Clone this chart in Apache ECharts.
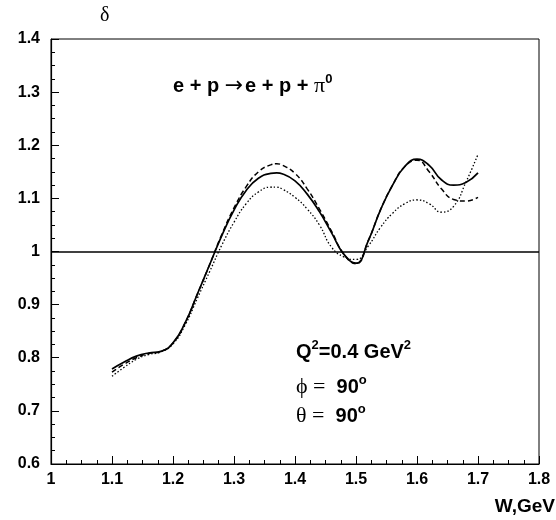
<!DOCTYPE html>
<html>
<head>
<meta charset="utf-8">
<script src="https://cdn.jsdelivr.net/npm/echarts@6/dist/echarts.min.js"></script>
<style>html,body{margin:0;padding:0;background:#fff}#c{width:556px;height:520px}</style>
</head>
<body>
<div id="c"></div>
<script>
const W = [1.10,1.12,1.14,1.16,1.18,1.20,1.22,1.24,1.26,1.28,1.30,1.32,1.34,1.36,1.37,1.38,1.40,1.42,1.44,1.46,1.48,1.50,1.52,1.54,1.56,1.58,1.60,1.62,1.64,1.66,1.68,1.70];
const solid = [0.779,0.792,0.803,0.809,0.812,0.828,0.866,0.920,0.975,1.030,1.078,1.115,1.138,1.147,1.148,1.146,1.133,1.108,1.075,1.035,0.995,0.978,1.020,1.078,1.125,1.160,1.174,1.162,1.135,1.125,1.130,1.148];
const dashed = [0.773,0.788,0.800,0.808,0.812,0.828,0.866,0.920,0.975,1.032,1.082,1.122,1.150,1.163,1.165,1.162,1.147,1.118,1.080,1.038,0.995,0.977,1.020,1.078,1.125,1.160,1.172,1.150,1.118,1.098,1.095,1.102];
const dotted = [0.765,0.782,0.797,0.806,0.811,0.826,0.862,0.912,0.962,1.012,1.055,1.090,1.112,1.121,1.121,1.117,1.102,1.080,1.050,1.008,0.990,0.985,1.010,1.045,1.072,1.090,1.097,1.090,1.074,1.085,1.130,1.183];
const xTicks = [1,1.1,1.2,1.3,1.4,1.5,1.6,1.7,1.8];
const yTicks = [0.6,0.7,0.8,0.9,1,1.1,1.2,1.3,1.4];

const pair = arr => W.map((w,i)=>[w,arr[i]]);
const chart = echarts.init(document.getElementById('c'));
const lab = {fontFamily:'Liberation Sans, Arial, sans-serif', fontWeight:'bold', fontSize:16, color:'#000'};
const B = 'bold 20px Liberation Sans, sans-serif';
const G = '22px Liberation Serif, serif';
const S = 'bold 13px Liberation Sans, sans-serif';
chart.setOption({
  animation:false,
  grid:{left:51,right:17,top:39,bottom:56,show:true,borderColor:'#000',borderWidth:1},
  xAxis:{type:'value',min:xTicks[0],max:xTicks[xTicks.length-1],interval:0.1,
    axisLine:{lineStyle:{color:'#000',width:1.2}},
    axisTick:{inside:true,length:8,lineStyle:{color:'#000'}},
    minorTick:{show:true,splitNumber:4,length:4,lineStyle:{color:'#000'}},
    splitLine:{show:false},
    axisLabel:Object.assign({margin:8,formatter:v=>String(+v.toFixed(1))},lab)},
  yAxis:{type:'value',min:yTicks[0],max:yTicks[yTicks.length-1],interval:0.1,
    axisLine:{lineStyle:{color:'#000',width:1.2}},
    axisTick:{inside:true,length:8,lineStyle:{color:'#000'}},
    minorTick:{show:true,splitNumber:4,length:4,lineStyle:{color:'#000'}},
    splitLine:{show:false},
    axisLabel:Object.assign({margin:11,formatter:v=>String(+v.toFixed(1))},lab)},
  series:[
    {type:'line',data:pair(solid),smooth:true,symbol:'none',lineStyle:{color:'#000',width:1.7,type:'solid'},
     markLine:{silent:true,symbol:'none',label:{show:false},lineStyle:{color:'#000',width:1.5,type:'solid'},data:[{yAxis:1}]}},
    {type:'line',data:pair(dashed),smooth:true,symbol:'none',lineStyle:{color:'#000',width:1.5,type:[5,3]}},
    {type:'line',data:pair(dotted),smooth:true,symbol:'none',lineStyle:{color:'#000',width:1.3,type:[1.5,2]}}
  ],
  graphic:[
    {type:'text',style:{x:100,y:16,verticalAlign:'middle',text:'δ',font:'20px Liberation Serif, serif',fill:'#000'}},
    {type:'text',style:{x:555,y:507,align:'right',verticalAlign:'middle',text:'W,GeV',font:'bold 19px Liberation Sans, sans-serif',fill:'#000'}},
    {type:'text',style:{x:173,y:86,verticalAlign:'middle',text:'{b|e + p }{a|\u2192}{b|e + p + }{g|\u03c0}{s|0}',rich:{
      b:{font:B,fill:'#000'},
      a:{font:'22px DejaVu Sans, sans-serif',fill:'#000',padding:[0,2,0,0]},
      g:{font:G,fill:'#000'},
      s:{font:S,fill:'#000',padding:[0,0,14,0]}}}},
    {type:'text',style:{x:296,y:352,verticalAlign:'middle',text:'{b|Q}{s|2}{b|=0.4 GeV}{s|2}',rich:{
      b:{font:B,fill:'#000'},
      s:{font:S,fill:'#000',padding:[0,0,14,0]}}}},
    {type:'text',style:{x:296,y:387,verticalAlign:'middle',text:'{g|\u03d5 = }{b| 90}{s|o}',rich:{
      b:{font:B,fill:'#000'},
      g:{font:G,fill:'#000'},
      s:{font:S,fill:'#000',padding:[0,0,14,0]}}}},
    {type:'text',style:{x:296,y:416,verticalAlign:'middle',text:'{g|\u03b8 = }{b| 90}{s|o}',rich:{
      b:{font:B,fill:'#000'},
      g:{font:G,fill:'#000'},
      s:{font:S,fill:'#000',padding:[0,0,14,0]}}}}
  ]
});
</script>
</body>
</html>
